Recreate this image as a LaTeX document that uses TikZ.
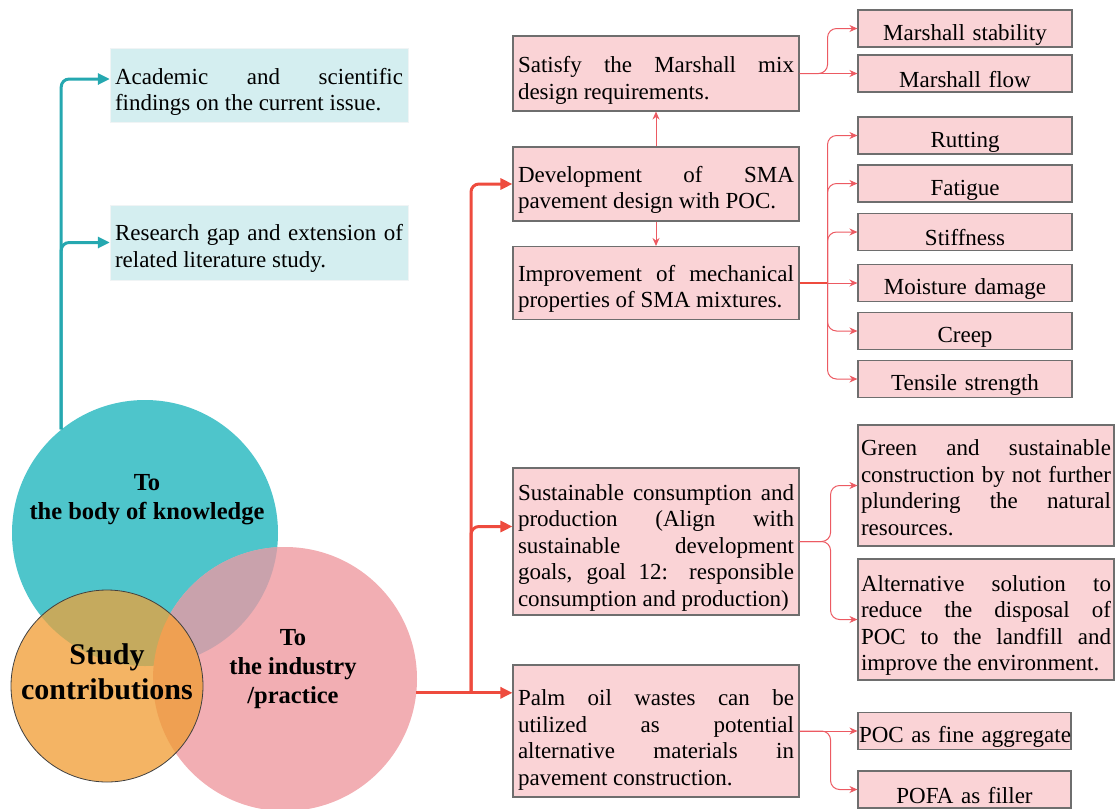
\documentclass[tikz,border=0pt]{standalone}
\usepackage{fontspec}
\setmainfont{Liberation Serif}
\usetikzlibrary{arrows.meta}

\definecolor{knowc}{HTML}{4EC5CB}
\definecolor{indc}{HTML}{F2AEB3}
\definecolor{studyc}{HTML}{F4B464}
\definecolor{kiover}{HTML}{C9A2AC}
\definecolor{ksover}{HTML}{C5AA5E}
\definecolor{isover}{HTML}{EFA052}
\definecolor{tealline}{HTML}{25A8B0}
\definecolor{redline}{HTML}{EE4B3E}
\definecolor{thinred}{HTML}{EC5A62}
\definecolor{pinkbox}{HTML}{FAD3D6}
\definecolor{tealbox}{HTML}{D4EEF0}
\definecolor{boxedge}{HTML}{6E6E6E}

\newcommand\boxfont{\fontsize{23}{26.5}\selectfont}

\tikzset{
  pbox/.style={draw=boxedge, line width=1.1pt, fill=pinkbox, font=\boxfont,
    inner xsep=5pt, inner ysep=0pt, text height=28pt, align=justify},
  midbox/.style={pbox, text width=276pt},
  sidebox/.style={pbox, text width=204pt, minimum height=37pt, align=center},
  widebox/.style={pbox, text width=250pt, inner xsep=3pt, minimum height=121pt},
  kbox/.style={draw=tealbox!85!black!20, fill=tealbox, font=\boxfont,
    inner xsep=5pt, inner ysep=0pt, text height=28pt, text width=288pt, align=justify},
  ctext/.style={font=\fontsize{24.5}{29}\selectfont\bfseries, align=center},
  tealarrow/.style={draw=tealline, line width=3pt, rounded corners=8pt,
    -{Triangle[length=12pt,width=11pt]}},
  redarrow/.style={draw=redline, line width=3pt, rounded corners=8pt,
    -{Triangle[length=12pt,width=11pt]}},
  thinarrow/.style={draw=thinred, line width=1pt, rounded corners=9pt,
    -{Stealth[length=8pt,width=7pt]}}
}

\begin{document}
\begin{tikzpicture}[x=1pt,y=-1pt]
\useasboundingbox (0,0) rectangle (1120,809);

\node[circle, inner sep=0pt, minimum size=266pt, fill=knowc] (tk) at (145,533) {};
\node[circle, inner sep=0pt, minimum size=264pt, fill=indc] (pk) at (285,679) {};
\begin{scope}
  \clip (tk.center) circle (133pt);
  \fill[kiover] (pk.center) circle (132pt);
\end{scope}
\node[circle, inner sep=0pt, minimum size=192pt, fill=studyc] (sc) at (107,686) {};
\begin{scope}
  \clip (sc.center) circle (96pt);
  \fill[ksover] (tk.center) circle (133pt);
  \fill[isover] (pk.center) circle (132pt);
\end{scope}
\draw[black!75, line width=0.8pt] (sc.center) circle (96pt);

\node[ctext] (tkt) at (147,500) {To\\the body of knowledge};
\node[ctext] (pkt) at (293,669) {To\\the industry\\/practice};
\node[ctext, font=\fontsize{30}{35}\selectfont\bfseries] (sct) at (107,672) {Study\\contributions};

\node[kbox, minimum height=74pt, text height=30pt] (tA) at (259,85) {Academic and scientific\linebreak findings on the current issue.};
\node[kbox, minimum height=75pt] (tB) at (259,242.5) {Research gap and extension of\linebreak related literature study.};

\node[midbox, minimum height=75pt, text height=30pt] (sat) at (656,73.5) {Satisfy the Marshall mix\linebreak design requirements.};
\node[midbox, minimum height=74pt] (dev) at (656,184) {Development of SMA\linebreak pavement design with POC.};
\node[midbox, minimum height=73pt] (imp) at (656,283) {Improvement of mechanical\linebreak properties of SMA mixtures.};
\node[midbox, minimum height=147pt] (sus) at (656,541.5) {Sustainable consumption and\linebreak production (Align with\linebreak sustainable development\linebreak goals, goal 12: responsible\linebreak consumption and production)};
\node[midbox, minimum height=132pt, text height=34pt] (pal) at (656,731) {Palm oil wastes can be\linebreak utilized as potential\linebreak alternative materials in\linebreak pavement construction.};

\node[sidebox] (stab) at (965,28.5) {Marshall stability};
\node[sidebox] (flow) at (965,73.5) {Marshall flow};
\node[sidebox] (rut) at (965,135.5) {Rutting};
\node[sidebox] (fat) at (965,183.5) {Fatigue};
\node[sidebox] (sti) at (965,232) {Stiffness};
\node[sidebox] (moi) at (965,283) {Moisture damage};
\node[sidebox] (cre) at (965,331) {Creep};
\node[sidebox] (ten) at (965,379) {Tensile strength};

\node[widebox, text height=20pt] (grn) at (986,485.5) {Green and sustainable\linebreak construction by not further\linebreak plundering the natural\linebreak resources.};
\node[widebox] (alt) at (986,619.5) {Alternative solution to\linebreak reduce the disposal of\linebreak POC to the landfill and\linebreak improve the environment.};
\node[sidebox, text width=211pt, inner xsep=1pt] (poc) at (964.5,731) {\mbox{POC as fine aggregate}};
\node[sidebox, text width=211pt, inner xsep=1pt] (pofa) at (964.5,789.5) {POFA as filler};

\coordinate (tj) at (tk.129);
\draw[tealarrow] (tj) |- ([yshift=6pt]tA.west);
\draw[tealarrow] (tj) |- (tB.west);

\coordinate (rs) at (pk.-6);
\coordinate (rx) at (471,0);
\draw[redarrow] (rs) -- (rs -| pal.west);
\draw[redarrow] (rs -| rx) |- ([yshift=15pt]sus.west);
\draw[redarrow] (rs -| rx) |- (dev.west);

\draw[thinarrow] (dev.north) -- (sat.south);
\draw[thinarrow] (dev.south) -- (imp.north);

\coordinate (sj) at ([xshift=28pt]sat.east);
\draw[thinarrow] (sat.east) -- (sj) |- (stab.west);
\draw[thinarrow] (sat.east) -- (flow.west);

\coordinate (ij) at ([xshift=28pt]imp.east);
\draw[redline, line width=2.2pt] (imp.east) -- (ij);
\foreach \b in {rut,fat,sti,cre,ten}
  \draw[thinarrow] (ij) |- (\b.west);
\draw[thinarrow] (ij) -- (moi.west);

\coordinate (uj) at ([xshift=31pt]sus.east);
\draw[thinarrow] (sus.east) -- (uj) |- (grn.west);
\draw[thinarrow] (sus.east) -- (uj) |- (alt.west);

\coordinate (pj) at ([xshift=31pt]pal.east);
\draw[thinarrow] (pal.east) -- (poc.west);
\draw[thinarrow] (pal.east) -- (pj) |- (pofa.west);
\end{tikzpicture}
\end{document}
